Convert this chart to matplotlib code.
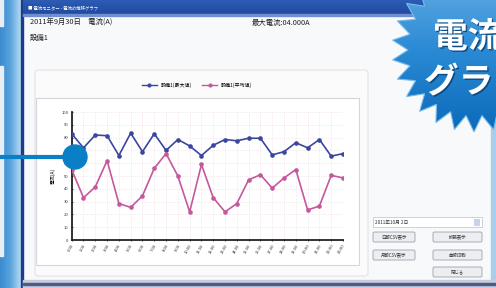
import matplotlib.pyplot as plt
import numpy as np
import matplotlib.patheffects as pe
from matplotlib.colors import LinearSegmentedColormap
from matplotlib.patches import Rectangle, Circle, Polygon, FancyBboxPatch
from matplotlib.lines import Line2D

plt.rcParams['font.family'] = ['Noto Sans CJK JP', 'DejaVu Sans']

# データ (24時間分)
jam = ['0:00', '1:00', '2:00', '3:00', '4:00', '5:00', '6:00', '7:00',
       '8:00', '9:00', '10:00', '11:00', '12:00', '13:00', '14:00', '15:00',
       '16:00', '17:00', '18:00', '19:00', '20:00', '21:00', '22:00', '23:00']
nilai_max = [83, 72, 82, 81.5, 66, 83.5, 69, 83, 70, 78.5, 73.5, 66,
             74, 78.5, 77.5, 79.5, 79.5, 66.5, 69, 76, 72, 78.5, 65.5, 67.5]
nilai_avg = [55, 33, 41.5, 62, 28.5, 25.5, 34.5, 56, 67.5, 50, 22, 59,
             33, 22, 28.5, 47, 51, 40.5, 48.5, 55, 23.5, 26.5, 50.5, 48.5]
y_ticks = [0, 10, 20, 30, 40, 50, 60, 70, 80, 90, 100]

label_max = '設備1(最大値)'
label_avg = '設備1(平均値)'
judul_tanggal = '2011年9月30日　電流(A)'
judul_max = '最大電流:04.000A'
judul_alat = '設備1'

W, H = 496, 288
fig = plt.figure(figsize=(W / 100, H / 100), dpi=100)

# latar belakang dalam koordinat piksel
bg = fig.add_axes([0, 0, 1, 1], zorder=0)
bg.set_xlim(0, W)
bg.set_ylim(H, 0)
bg.axis('off')

# strip biru kiri
grad = np.linspace(0, 1, 64).reshape(1, -1)
bg.imshow(grad, extent=[0, 21, H, 0],
          cmap=LinearSegmentedColormap.from_list('kiri', ['#3a8bd0', '#5ba3dd', '#b5daf3']),
          aspect='auto', zorder=1)
bg.add_patch(Rectangle((0, 0), 3, 26, color='#e8eef5', zorder=2))
bg.add_patch(Rectangle((0, 66), 3, 190, color='#e8eef5', zorder=2))
bg.add_patch(Rectangle((21, 0), 2, H, color='#1d3c86', zorder=2))

# jendela
bg.add_patch(Rectangle((23, 15), 468, 266, color='#f8f9fb', zorder=1))
bg.imshow(np.linspace(0, 1, 64).reshape(-1, 1), extent=[23, W, 15, 0],
          cmap=LinearSegmentedColormap.from_list('judul', ['#2c5cb4', '#1f4a9e']),
          aspect='auto', zorder=2)
bg.add_patch(Rectangle((23, 14), 473, 1.5, color='#6f8fd0', zorder=3))
bg.text(28, 7.5, '■ 電流モニター - 電流の推移グラフ', color='white', fontsize=3.2,
        va='center', zorder=4)
bg.add_patch(Rectangle((491, 15), 5, H, color='#a9cdeb', zorder=2))
bg.add_patch(Rectangle((23, 280), 473, 8, color='#c9cdd9', zorder=2))
bg.add_patch(Rectangle((23, 283), 473, 1.5, color='#4b5a8c', zorder=3))

# teks header
bg.text(30, 23, judul_tanggal, fontsize=5.3, color='#222222', va='center', zorder=4)
bg.text(252, 23, judul_max, fontsize=5.3, color='#222222', va='center', zorder=4)
bg.text(30, 38, judul_alat, fontsize=5.3, color='#222222', va='center', zorder=4)

# panel grafik
bg.add_patch(FancyBboxPatch((35, 70), 333, 206, boxstyle='round,pad=0,rounding_size=3',
                            fc='#fbfbfc', ec='#e2e2e6', lw=0.8, zorder=3))
bg.add_patch(Rectangle((36, 98), 323, 167, fc='white', ec='#d6d6da', lw=0.8, zorder=4))

# kontrol kanan bawah
bg.add_patch(Rectangle((373, 217), 109, 10, fc='white', ec='#c5c9d2', lw=0.6, zorder=4))
bg.text(375, 222, '2011年10月 2日', fontsize=3.4, color='#333333', va='center', zorder=5)
bg.add_patch(Rectangle((474, 218.5), 6, 7, fc='#c7d3e6', ec='none', zorder=5))
tombol = [(373, 232, 42, '日報CSV表示'), (433, 232, 49, '拡張表示'),
          (373, 250, 42, '月報CSV表示'), (433, 250, 49, '曲線印刷'),
          (433, 267, 49, '閉じる')]
for x0, y0, w, t in tombol:
    bg.add_patch(FancyBboxPatch((x0, y0), w, 10, boxstyle='round,pad=0,rounding_size=1.5',
                                fc='#eceef2', ec='#9aa0ab', lw=0.6, zorder=4))
    bg.text(x0 + w / 2, y0 + 5, t, fontsize=3.2, color='#333333', ha='center',
            va='center', zorder=5)

# grafik utama
ax = fig.add_axes([71.7 / W, 48 / H, 271.3 / W, 128 / H], zorder=2)
ax.set_facecolor('none')
x = np.arange(len(jam))
ax.plot(x, nilai_max, color='#3a479e', lw=1.2, marker='o', ms=2.3, zorder=3)
ax.plot(x, nilai_avg, color='#c4589c', lw=1.2, marker='o', ms=2.3, zorder=3)
ax.set_xlim(0, len(jam) - 1)
ax.set_ylim(0, 100)
ax.set_yticks(y_ticks)
ax.set_yticklabels([str(v) for v in y_ticks], fontsize=3)
ax.set_xticks(x)
ax.set_xticklabels(jam, fontsize=3, rotation=60, ha='right', rotation_mode='anchor')
ax.tick_params(length=2, width=0.6, direction='inout', pad=1.5, colors='#333333')
ax.grid(True, color='#ecd6df', lw=0.5, ls=':')
for s in ['top', 'right']:
    ax.spines[s].set_visible(False)
for s in ['left', 'bottom']:
    ax.spines[s].set_linewidth(1.3)
    ax.spines[s].set_color('#222222')
ax.set_ylabel('電流(A)', fontsize=3.5, labelpad=4)

handles = [Line2D([], [], color='#3a479e', lw=1, marker='o', ms=2),
           Line2D([], [], color='#c4589c', lw=1, marker='o', ms=2)]
fig.legend(handles, [label_max, label_avg], loc='center', ncol=2, frameon=False,
           fontsize=3.6, bbox_to_anchor=(197 / W, 1 - 85 / H), handlelength=3,
           columnspacing=2)

# lapisan atas: callout dan lencana
top = fig.add_axes([0, 0, 1, 1], zorder=5)
top.set_facecolor('none')
top.axis('off')
top.plot([0, 70], [157, 157], color='#0b7fc6', lw=3, solid_capstyle='butt', zorder=2)
top.add_patch(Circle((75, 157), 12, color='#0b7fc6', zorder=3))

# lencana bintang
cx, cy, r_out, r_in, n = 474, 50, 82, 66, 26
sudut = np.linspace(0, 2 * np.pi, 2 * n, endpoint=False) + np.pi / 2
rad = np.where(np.arange(2 * n) % 2 == 0, r_out, r_in)
pts = np.column_stack([cx + rad * np.cos(sudut), cy + rad * np.sin(sudut)])
bintang = Polygon(pts, closed=True, fc='none', ec='#7dbbe9', lw=0.8, zorder=3)
top.add_patch(bintang)
im = top.imshow(np.linspace(0, 1, 128).reshape(-1, 1),
                extent=[cx - r_out, cx + r_out, cy + r_out, cy - r_out],
                cmap=LinearSegmentedColormap.from_list(
                    'lencana', ['#6ab0e6', '#2a8ad4', '#0b6bbb']),
                aspect='auto', zorder=2.5)
im.set_clip_path(bintang)
top.set_xlim(0, W)
top.set_ylim(H, 0)
bayangan = [pe.withSimplePatchShadow(offset=(1, -1), shadow_rgbFace='#0a3d70', alpha=0.8)]
top.text(433, 37, '電流', fontsize=25, fontweight='bold', color='white',
         va='center', ha='left', zorder=4, path_effects=bayangan)
top.text(424, 82, 'グラフ', fontsize=25, fontweight='bold', color='white',
         va='center', ha='left', zorder=4, path_effects=bayangan)

fig.savefig('out.png', dpi=100)
